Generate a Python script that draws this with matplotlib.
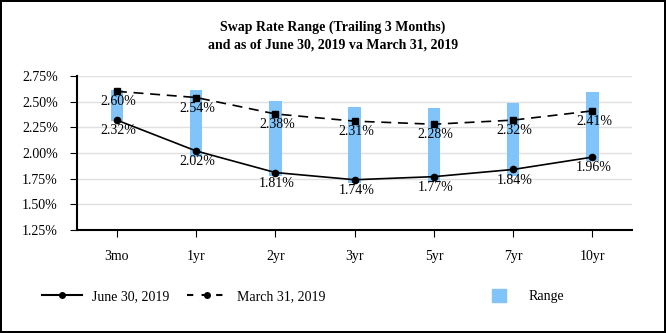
import matplotlib.pyplot as plt
from matplotlib.patches import Patch
from matplotlib.lines import Line2D
from matplotlib.ticker import FuncFormatter

plt.rcParams["font.family"] = ["Liberation Serif", "DejaVu Serif"]

TENORS = ["3mo", "1yr", "2yr", "3yr", "5yr", "7yr", "10yr"]
JUNE = [2.32, 2.02, 1.81, 1.74, 1.77, 1.84, 1.96]
MARCH = [2.60, 2.54, 2.38, 2.31, 2.28, 2.32, 2.41]
RANGE_LOW = [2.31, 1.96, 1.78, 1.71, 1.72, 1.78, 1.92]
RANGE_HIGH = [2.61, 2.61, 2.51, 2.45, 2.44, 2.49, 2.59]

BLUE = "#80c4fa"

fig = plt.figure(figsize=(6.66, 3.33), dpi=100, edgecolor="black", linewidth=1.5)
ax = fig.add_axes([0.116, 0.309, 0.833, 0.463])

x = list(range(len(TENORS)))

ax.bar(
    x,
    [h - l for h, l in zip(RANGE_HIGH, RANGE_LOW)],
    bottom=RANGE_LOW,
    width=0.16,
    color=BLUE,
    zorder=2,
)

ax.plot(x, JUNE, color="black", lw=1.2, marker="o", ms=4.5, zorder=3)
ax.plot(x, MARCH, color="black", lw=1.2, ls=(0, (6, 4)), marker="s", ms=5, zorder=3)

for i in x:
    ax.text(i + 0.02, JUNE[i] - 0.04, f"{JUNE[i]:.2f}%", ha="center", va="top", fontsize=10, zorder=4)
    ax.text(i + 0.02, MARCH[i] - 0.04, f"{MARCH[i]:.2f}%", ha="center", va="top", fontsize=10, zorder=4)

ax.set_xlim(-0.5, 6.5)
ax.set_ylim(1.25, 2.75)
ax.set_yticks([1.25, 1.5, 1.75, 2.0, 2.25, 2.5, 2.75])
ax.yaxis.set_major_formatter(FuncFormatter(lambda v, p: f"{v:.2f}%"))
ax.set_xticks(x)
ax.set_xticklabels(TENORS)

ax.grid(axis="y", color="#e0e0e0", lw=1, zorder=0)
ax.set_axisbelow(True)
for s in ["top", "right"]:
    ax.spines[s].set_visible(False)
for s in ["left", "bottom"]:
    ax.spines[s].set_linewidth(1.5)
ax.tick_params(axis="x", length=5, pad=9, labelsize=10)
ax.tick_params(axis="y", length=5, pad=9, labelsize=10)

fig.suptitle(
    "Swap Rate Range (Trailing 3 Months)\nand as of June 30, 2019 va March 31, 2019",
    fontsize=10, fontweight="bold", y=0.937, linespacing=1.4,
)

line_handles = [
    Line2D([], [], color="black", lw=1.5, marker="o", ms=4),
    Line2D([], [], color="black", lw=1.5, ls=(0, (3, 4)), marker="o", ms=4),
]
leg1 = fig.legend(
    line_handles, ["June 30, 2019", "March 31, 2019"],
    loc="center left", bbox_to_anchor=(0.044, 0.11), ncol=2, frameon=False,
    fontsize=10, handlelength=2.9, handletextpad=0.7, columnspacing=1.3,
)
leg2 = fig.legend(
    [Patch(color=BLUE)], ["Range"],
    loc="center left", bbox_to_anchor=(0.72, 0.11), frameon=False,
    fontsize=10, handlelength=1.0, handleheight=1.0, handletextpad=1.65,
)

fig.savefig("out.png", dpi=100)
